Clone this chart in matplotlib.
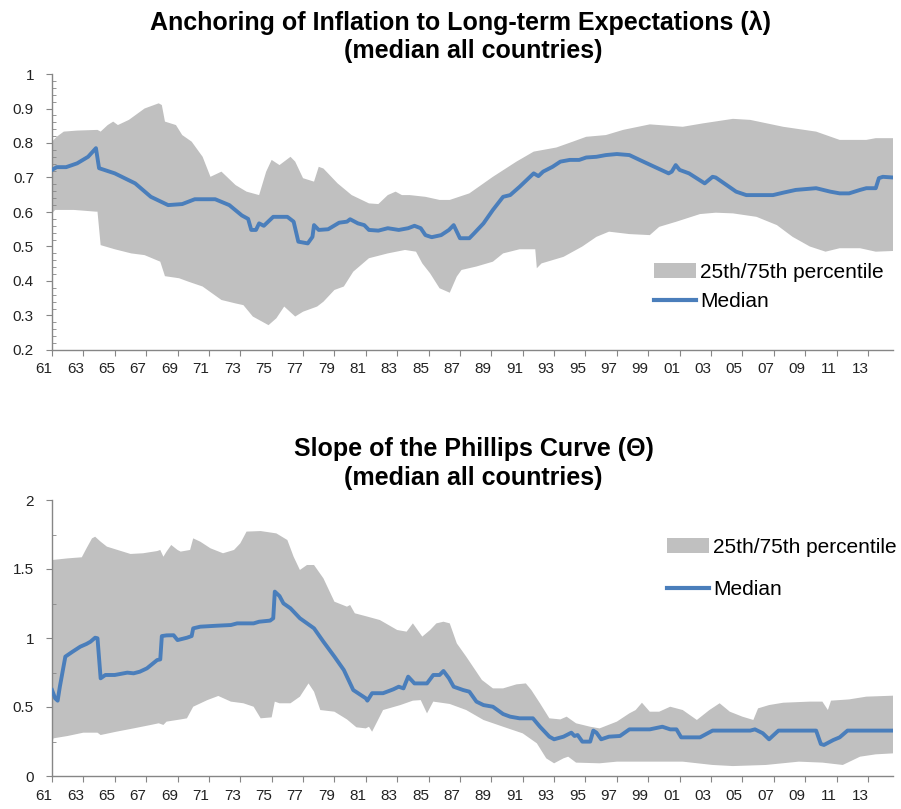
import numpy as np
import matplotlib.pyplot as plt
from matplotlib.ticker import MultipleLocator, FuncFormatter
from matplotlib.transforms import ScaledTranslation
from matplotlib.patches import Patch
from matplotlib.lines import Line2D

plt.rcParams['font.family'] = ['Liberation Sans', 'DejaVu Sans']

BLUE = '#4a7ebb'
GREY = '#c0c0c0'
AXC = '#868686'

# ---- Anchoring (lambda) ----
lam_med_x = [1961.0, 1961.3, 1961.9, 1962.6, 1963.3, 1963.8, 1964.0, 1965.0, 1966.3, 1967.3,
             1968.4, 1969.3, 1970.1, 1971.4, 1972.3, 1973.1, 1973.5, 1973.7, 1974.0, 1974.2,
             1974.5, 1975.1, 1976.0, 1976.4, 1976.7, 1977.3, 1977.6, 1977.7, 1978.0, 1978.6,
             1979.3, 1979.8, 1980.0, 1980.5, 1980.9, 1981.2, 1981.8, 1982.4, 1983.1, 1983.7,
             1984.1, 1984.5, 1984.8, 1985.2, 1985.8, 1986.3, 1986.6, 1987.0, 1987.6, 1987.9,
             1988.5, 1989.1, 1989.75, 1990.2, 1990.8, 1991.7, 1992.0, 1992.3, 1992.9, 1993.4,
             1994.0, 1994.6, 1995.05, 1995.7, 1996.3, 1997.0, 1997.8, 1998.45, 1999.3, 2000.3,
             2000.5, 2000.75, 2001.0, 2001.6, 2002.6, 2003.1, 2003.3, 2004.0, 2004.6, 2005.25,
             2006.1, 2006.95, 2007.6, 2008.4, 2009.7, 2010.6, 2011.2, 2011.8, 2012.5, 2012.9,
             2013.5, 2013.7, 2013.95, 2014.6]
lam_med_y = [0.722, 0.730, 0.730, 0.741, 0.760, 0.785, 0.727, 0.712, 0.683, 0.644,
             0.620, 0.623, 0.637, 0.637, 0.620, 0.590, 0.580, 0.548, 0.548, 0.567,
             0.560, 0.586, 0.586, 0.572, 0.514, 0.509, 0.528, 0.562, 0.548, 0.550,
             0.569, 0.572, 0.579, 0.567, 0.562, 0.548, 0.546, 0.553, 0.548, 0.553,
             0.560, 0.553, 0.533, 0.527, 0.533, 0.548, 0.562, 0.524, 0.524, 0.538,
             0.567, 0.606, 0.644, 0.649, 0.673, 0.712, 0.704, 0.717, 0.731, 0.746,
             0.751, 0.751, 0.758, 0.760, 0.765, 0.768, 0.765, 0.751, 0.733, 0.712,
             0.717, 0.736, 0.722, 0.712, 0.683, 0.702, 0.700, 0.678, 0.659, 0.649,
             0.649, 0.649, 0.656, 0.664, 0.669, 0.659, 0.654, 0.654, 0.664, 0.669,
             0.669, 0.698, 0.702, 0.700]

lam_p75_x = [1961.0, 1961.3, 1961.75, 1962.6, 1963.9, 1964.1, 1964.55, 1964.9, 1965.2, 1965.9,
             1966.9, 1967.8, 1968.0, 1968.2, 1968.9, 1969.3, 1969.9, 1970.6, 1971.1, 1971.8,
             1972.7, 1973.4, 1974.2, 1974.65, 1975.0, 1975.5, 1976.2, 1976.5, 1977.0, 1977.7,
             1978.0, 1978.3, 1979.2, 1980.1, 1981.2, 1981.8, 1982.4, 1982.9, 1983.3, 1983.8,
             1984.8, 1985.7, 1986.35, 1987.6, 1989.1, 1990.6, 1991.7, 1993.15, 1994.2, 1995.05,
             1996.3, 1997.4, 1999.1, 2001.2, 2002.5, 2004.4, 2005.5, 2007.6, 2009.7, 2011.2,
             2012.9, 2013.5, 2014.6]
lam_p75_y = [0.804, 0.818, 0.833, 0.836, 0.838, 0.833, 0.852, 0.862, 0.852, 0.867,
             0.900, 0.915, 0.910, 0.862, 0.852, 0.823, 0.804, 0.760, 0.702, 0.717,
             0.678, 0.659, 0.649, 0.717, 0.751, 0.736, 0.760, 0.746, 0.698, 0.688,
             0.731, 0.726, 0.683, 0.649, 0.625, 0.623, 0.649, 0.659, 0.649, 0.649,
             0.644, 0.635, 0.635, 0.654, 0.702, 0.746, 0.775, 0.787, 0.804, 0.818,
             0.823, 0.838, 0.854, 0.847, 0.857, 0.870, 0.867, 0.847, 0.833, 0.809,
             0.809, 0.814, 0.814]

lam_p25_x = [1961.0, 1961.2, 1962.4, 1963.8, 1963.9, 1964.1, 1965.0, 1966.05, 1966.9, 1967.9,
             1968.2, 1969.1, 1969.7, 1970.6, 1971.8, 1972.7, 1973.2, 1973.8, 1974.8, 1975.3,
             1975.8, 1976.5, 1977.0, 1977.9, 1978.3, 1979.0, 1979.6, 1980.2, 1981.2, 1982.4,
             1983.5, 1984.2, 1984.6, 1985.1, 1985.7, 1986.35, 1986.8, 1987.1, 1988.05, 1989.1,
             1989.75, 1990.8, 1991.8, 1991.9, 1992.2, 1993.6, 1994.8, 1995.7, 1996.5, 1997.8,
             1999.1, 1999.7, 2000.8, 2002.3, 2003.3, 2004.4, 2005.9, 2007.2, 2008.2, 2009.3,
             2010.3, 2011.2, 2012.5, 2013.5, 2014.6]
lam_p25_y = [0.596, 0.606, 0.606, 0.601, 0.601, 0.504, 0.492, 0.480, 0.475, 0.456,
             0.414, 0.408, 0.398, 0.384, 0.345, 0.335, 0.330, 0.297, 0.272, 0.292,
             0.326, 0.297, 0.311, 0.326, 0.340, 0.374, 0.384, 0.427, 0.466, 0.480,
             0.490, 0.485, 0.451, 0.422, 0.379, 0.366, 0.413, 0.432, 0.442, 0.456,
             0.480, 0.492, 0.492, 0.437, 0.451, 0.470, 0.500, 0.528, 0.543, 0.536,
             0.533, 0.557, 0.572, 0.594, 0.598, 0.596, 0.586, 0.562, 0.528, 0.500,
             0.485, 0.495, 0.495, 0.485, 0.487]

# ---- Phillips curve slope (theta) ----
th_med_x = [1961.0, 1961.2, 1961.36, 1961.5, 1961.85, 1962.3, 1962.8, 1963.2, 1963.45, 1963.75,
            1963.9, 1964.1, 1964.4, 1965.0, 1965.8, 1966.2, 1966.6, 1967.05, 1967.7, 1967.9,
            1968.0, 1968.3, 1968.75, 1969.0, 1969.6, 1969.9, 1970.0, 1970.45, 1971.5, 1972.4,
            1972.8, 1973.85, 1974.2, 1974.9, 1975.1, 1975.2, 1975.5, 1975.75, 1976.2, 1976.8,
            1977.7, 1978.3, 1979.0, 1979.6, 1980.2, 1981.0, 1981.1, 1981.4, 1982.1, 1982.75,
            1983.1, 1983.4, 1983.7, 1984.1, 1984.9, 1985.3, 1985.7, 1985.95, 1986.3, 1986.6,
            1987.2, 1987.6, 1988.05, 1988.5, 1989.1, 1989.75, 1990.2, 1990.8, 1991.65, 1992.1,
            1992.7, 1993.0, 1993.6, 1994.1, 1994.3, 1994.5, 1994.8, 1995.3, 1995.5, 1995.7,
            1996.0, 1996.5, 1997.2, 1997.8, 1999.1, 1999.9, 2000.4, 2000.8, 2001.1, 2002.3,
            2003.1, 2005.5, 2005.8, 2006.3, 2006.7, 2007.3, 2009.7, 2010.0, 2010.2, 2010.8,
            2011.2, 2011.7, 2014.6]
th_med_y = [0.623, 0.563, 0.546, 0.647, 0.865, 0.900, 0.937, 0.957, 0.973, 1.002,
            0.998, 0.708, 0.732, 0.732, 0.749, 0.744, 0.756, 0.780, 0.840, 0.845,
            1.014, 1.019, 1.020, 0.985, 1.002, 1.014, 1.070, 1.082, 1.089, 1.094,
            1.106, 1.106, 1.118, 1.126, 1.143, 1.336, 1.304, 1.251, 1.215, 1.143,
            1.070, 0.973, 0.865, 0.768, 0.623, 0.563, 0.546, 0.600, 0.600, 0.628,
            0.647, 0.635, 0.720, 0.671, 0.671, 0.732, 0.732, 0.761, 0.708, 0.647,
            0.623, 0.611, 0.539, 0.514, 0.502, 0.449, 0.430, 0.418, 0.418, 0.357,
            0.285, 0.266, 0.285, 0.314, 0.290, 0.297, 0.249, 0.249, 0.329, 0.314,
            0.266, 0.285, 0.290, 0.338, 0.338, 0.357, 0.338, 0.338, 0.280, 0.280,
            0.329, 0.329, 0.338, 0.310, 0.266, 0.329, 0.329, 0.232, 0.225, 0.261,
            0.280, 0.329, 0.329]

th_p75_x = [1961.0, 1962.0, 1962.9, 1963.2, 1963.55, 1963.75, 1964.1, 1964.5, 1966.0, 1966.8,
            1967.7, 1967.9, 1968.1, 1968.3, 1968.6, 1969.0, 1969.2, 1969.8, 1970.0, 1970.45,
            1971.1, 1971.9, 1972.6, 1973.0, 1973.4, 1974.3, 1975.3, 1976.0, 1976.4, 1976.8,
            1977.25, 1977.7, 1978.3, 1979.0, 1979.8, 1980.0, 1980.3, 1981.1, 1981.9, 1983.0,
            1983.6, 1984.0, 1984.6, 1985.1, 1985.5, 1985.95, 1986.35, 1986.8, 1987.4, 1988.4,
            1989.1, 1989.75, 1990.6, 1991.2, 1991.55, 1992.1, 1992.7, 1993.4, 1993.8, 1994.4,
            1995.3, 1995.9, 1997.0, 1997.8, 1998.2, 1998.6, 1999.1, 1999.7, 2000.4, 2001.2,
            2002.1, 2002.9, 2003.55, 2004.2, 2005.0, 2005.7, 2006.0, 2006.7, 2007.6, 2009.3,
            2010.1, 2010.45, 2010.65, 2011.8, 2012.9, 2014.6]
th_p75_y = [1.565, 1.577, 1.585, 1.650, 1.722, 1.734, 1.698, 1.662, 1.609, 1.614,
            1.630, 1.638, 1.589, 1.626, 1.674, 1.638, 1.626, 1.638, 1.722, 1.698,
            1.650, 1.614, 1.638, 1.686, 1.771, 1.775, 1.758, 1.710, 1.589, 1.493,
            1.529, 1.529, 1.432, 1.263, 1.227, 1.239, 1.179, 1.155, 1.130, 1.058,
            1.046, 1.106, 1.010, 1.058, 1.106, 1.118, 1.106, 0.961, 0.865, 0.696,
            0.635, 0.635, 0.664, 0.671, 0.623, 0.527, 0.418, 0.410, 0.430, 0.382,
            0.357, 0.345, 0.394, 0.454, 0.478, 0.531, 0.466, 0.466, 0.502, 0.478,
            0.406, 0.478, 0.527, 0.466, 0.430, 0.406, 0.490, 0.514, 0.531, 0.539,
            0.539, 0.478, 0.546, 0.555, 0.575, 0.582]

th_p25_x = [1961.0, 1961.1, 1962.0, 1963.0, 1963.9, 1964.1, 1965.1, 1966.2, 1967.3, 1967.8,
            1968.1, 1968.3, 1969.2, 1969.6, 1970.0, 1970.9, 1971.6, 1972.4, 1973.2, 1973.85,
            1974.3, 1975.0, 1975.2, 1975.5, 1976.2, 1976.8, 1977.35, 1977.7, 1978.1, 1979.0,
            1979.8, 1980.4, 1981.0, 1981.2, 1981.4, 1982.1, 1983.2, 1984.0, 1984.5, 1984.9,
            1985.3, 1986.35, 1987.4, 1988.5, 1989.75, 1991.0, 1991.9, 1992.5, 1993.0, 1993.6,
            1993.9, 1994.4, 1995.9, 1997.0, 1999.1, 2001.2, 2003.1, 2004.4, 2006.5, 2008.6,
            2010.1, 2011.4, 2012.5, 2013.5, 2014.6]
th_p25_y = [0.237, 0.273, 0.290, 0.314, 0.314, 0.297, 0.321, 0.345, 0.370, 0.382,
            0.370, 0.394, 0.410, 0.418, 0.502, 0.550, 0.580, 0.539, 0.527, 0.502,
            0.418, 0.425, 0.539, 0.527, 0.527, 0.575, 0.671, 0.611, 0.478, 0.466,
            0.410, 0.353, 0.345, 0.357, 0.321, 0.478, 0.514, 0.546, 0.550, 0.454,
            0.539, 0.522, 0.478, 0.406, 0.357, 0.309, 0.237, 0.128, 0.092, 0.128,
            0.140, 0.097, 0.092, 0.104, 0.104, 0.104, 0.080, 0.072, 0.080, 0.104,
            0.097, 0.080, 0.140, 0.157, 0.164]

tick_years = list(range(1961, 2014, 2))
tick_labels = ['%02d' % (y % 100) for y in tick_years]

fig = plt.figure(figsize=(9.01, 8.09), dpi=100)
ax1 = fig.add_axes([52 / 901, 1 - 350 / 809, 841 / 901, 276 / 809])
ax2 = fig.add_axes([52 / 901, 1 - 776 / 809, 841 / 901, 276 / 809])


def band(ax, x75, y75, x25, y25):
    ax.fill(np.concatenate([x75, x25[::-1]]), np.concatenate([y75, y25[::-1]]),
            color=GREY, lw=0, zorder=1)


def style(ax, ylo, yhi, major, minor):
    ax.set_xlim(1961, 2014.6)
    ax.set_ylim(ylo, yhi)
    for s in ['top', 'right']:
        ax.spines[s].set_visible(False)
    for s in ['left', 'bottom']:
        ax.spines[s].set_color(AXC)
        ax.spines[s].set_linewidth(1.0)
    ax.yaxis.set_major_locator(MultipleLocator(major))
    ax.yaxis.set_minor_locator(MultipleLocator(minor))
    ax.yaxis.set_major_formatter(FuncFormatter(lambda v, p: '%g' % round(v, 2)))
    ax.tick_params(axis='y', which='major', direction='out', length=4, color=AXC,
                   labelsize=11, labelcolor='#222222', pad=9)
    ax.tick_params(axis='y', which='minor', direction='in', length=3, color=AXC)
    ax.set_xticks(tick_years)
    ax.set_xticklabels(tick_labels)
    ax.tick_params(axis='x', which='major', direction='out', length=4, color=AXC,
                   labelsize=11, labelcolor='#222222', pad=5)
    off = ScaledTranslation(-8 / 100, 0, fig.dpi_scale_trans)
    for lab in ax.get_xticklabels():
        lab.set_transform(lab.get_transform() + off)


band(ax1, np.array(lam_p75_x), np.array(lam_p75_y), np.array(lam_p25_x), np.array(lam_p25_y))
ax1.plot(lam_med_x, lam_med_y, color=BLUE, lw=2.8, zorder=3, solid_joinstyle='round')
style(ax1, 0.2, 1.0, 0.1, 0.02)

band(ax2, np.array(th_p75_x), np.array(th_p75_y), np.array(th_p25_x), np.array(th_p25_y))
ax2.plot(th_med_x, th_med_y, color=BLUE, lw=2.8, zorder=3, solid_joinstyle='round')
style(ax2, 0, 2, 0.5, 0.25)

handles = [Patch(facecolor=GREY, edgecolor='none'), Line2D([], [], color=BLUE, lw=3)]
labels = ['25th/75th percentile', 'Median']
fig.legend(handles, labels, loc='upper left', bbox_to_anchor=(654 / 901, 1 - 263 / 809),
           frameon=False, fontsize=15, handlelength=2.0, handletextpad=0.2,
           labelspacing=0.5, borderpad=0, borderaxespad=0)
fig.legend(handles, labels, loc='upper left', bbox_to_anchor=(667 / 901, 1 - 538 / 809),
           frameon=False, fontsize=15, handlelength=2.0, handletextpad=0.2,
           labelspacing=1.1, borderpad=0, borderaxespad=0)

tkw = dict(ha='center', va='center', fontsize=18, fontweight='bold', color='black')
fig.text(460 / 901, 1 - 23 / 809, 'Anchoring of Inflation to Long-term Expectations (λ)', **tkw)
fig.text(473 / 901, 1 - 51 / 809, '(median all countries)', **tkw)
fig.text(474 / 901, 1 - 449 / 809, 'Slope of the Phillips Curve (Θ)', **tkw)
fig.text(473 / 901, 1 - 478 / 809, '(median all countries)', **tkw)

fig.savefig('out.png', dpi=100)
